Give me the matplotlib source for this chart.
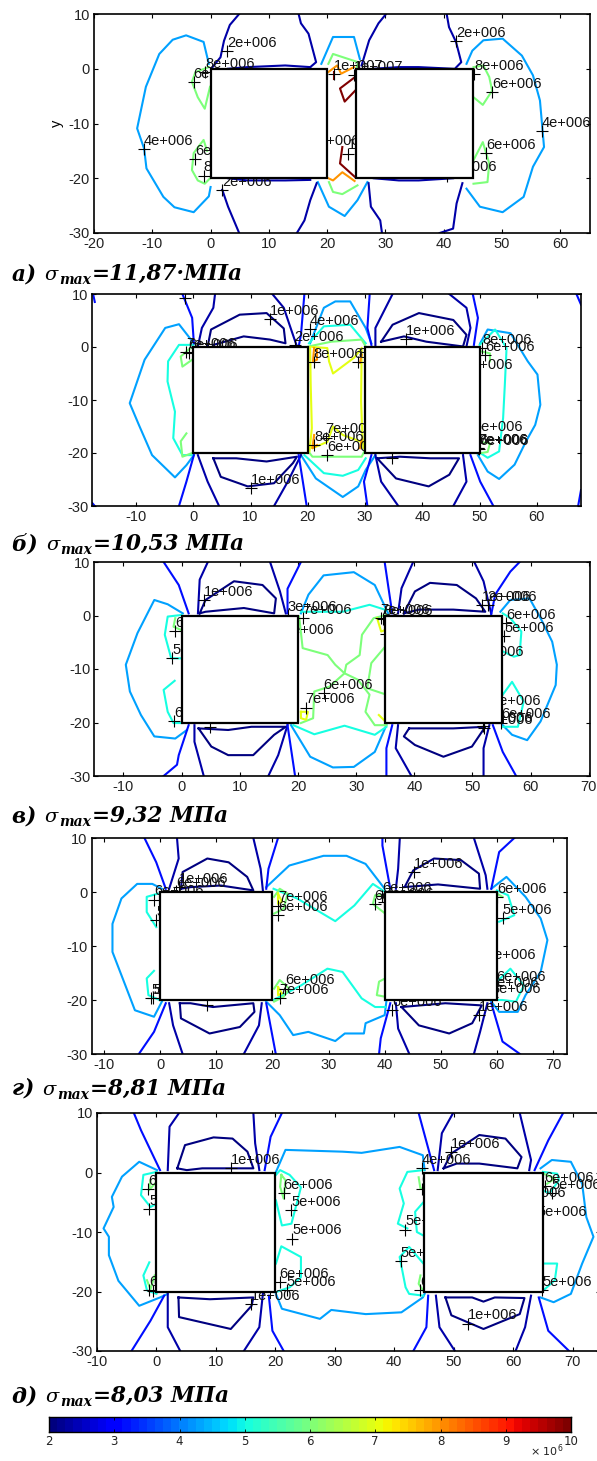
import numpy as np
import matplotlib
matplotlib.use("Agg")
import matplotlib.pyplot as plt
from matplotlib.patches import Rectangle

W, H = 597, 1461
NAVY, LEG, BLUE, SKY, CYAN, GREEN, YELLOW, ORANGE, DARKRED = 2.0, 2.3, 3.1, 4.25, 5.0, 6.0, 7.0, 8.0, 10.0
LEVEL_MIN, LEVEL_MAX = 2.0, 10.0
Y_TICKS = [-30, -20, -10, 0, 10]

# ---------- panel a ----------
a_contours = {
 SKY: [[(-.3,.9),(-1.2,4.9),(-4.2,6.1),(-6.5,5.3),(-8.8,2.7),(-11.1,-3.3),(-12.6,-10.9),(-11.4,-14.6),(-11,-18.2),(-8.1,-23.4),(-6.2,-25.3),(-2.9,-26.2),(-.3,-23.3),(0,-21.6)],
       [(43.9,.9),(44.9,3.3),(46.8,5.2),(50.1,5.5),(53.4,2.4),(55.3,-1.2),(56.5,-5.8),(57.2,-14.3),(55.3,-17.9),(53.7,-23.4),(50.1,-26.2),(46.2,-25.2),(43.9,-21.9)],
       [(19,.9),(21,5.8),(24.6,5.8),(25.6,1.8)],
       [(18.4,-20.7),(20.3,-25.2),(23,-26.9),(25.2,-24),(26.9,-20.7)]],
 LEG: [[(4.9,10),(3.3,8),(2.3,5.1),(1.7,2.1),(.1,0)],
       [(15.1,10),(15.5,8.3),(16.8,6.4),(18.1,1.2),(17.1,.3)],
       [(30.1,10),(28.8,8.3),(27.2,5.2),(25.9,.6)],
       [(40.5,10),(40.9,7.6),(42.1,4.9),(43,1.2),(41.9,0)],
       [(2,-22.1),(3,-25.2),(4.9,-30)],
       [(18.2,-20.9),(17.1,-24),(16.1,-27.7),(14.8,-30)],
       [(27.1,-20.9),(27.5,-25.2),(29.1,-27.7),(29.4,-30)],
       [(43.2,-20.9),(42.2,-24.6),(41.6,-29.2),(39.3,-30)],
       [(3,0),(6.3,.3),(12.8,.6),(17.1,.3)],
       [(28,0),(32.3,.3),(35.7,.3),(41.6,0)],
       [(3,-20),(6.3,-20.4),(12.8,-20.4),(17.1,-20.3)],
       [(28,-20),(32.3,-20.4),(35.7,-20.4),(41.6,-20)]],
 GREEN: [[(-.3,.3),(-2.6,-.6),(-3.2,-2.4),(-2.2,-5.2),(-1,-7.3),(-.1,-3.3)],
         [(-.6,-15),(-1.2,-13),(-2.9,-15.4),(-3.2,-18.5),(-2.2,-20.4),(-1,-21),(.1,-19.8)],
         [(45.1,.3),(46.8,.6),(47.8,-1.5),(48.3,-4),(46.7,-6.6),(45.1,-5.2)],
         [(45.1,-16.7),(46.7,-13.4),(47.8,-17.3),(47.5,-20.7),(45.1,-21)],
         [(20.2,.9),(21,2.7),(25.3,1.2),(25,0)],
         [(20.3,-20.7),(21,-22.5),(22.6,-22.9),(25.2,-21.3)]],
 ORANGE: [[(20.2,-.6),(21.7,.6),(22.4,-.9),(24.6,.3)],
          [(20.2,-20),(21,-20.4),(22.6,-18.9),(24.7,-20.5)]],
 DARKRED: [[(24.8,-1.5),(22.2,-3.6),(23,-6),(24.8,-4)],
           [(22.6,-14.3),(22.2,-17.3),(24.8,-19.8)],
           [(21.1,-.6),(21.1,-1.8)]],
}
a_labels = ["2e+006","8e+006","6e+006","4e+006","6e+006","8e+006","2e+006","1e+007","1e+007","6e+006","1e+007","2e+006","8e+006","6e+006","4e+006","6e+006","6e+006"]
a_x = [2.8,-.9,-2.9,-11.5,-2.7,-1.2,2,21.1,24.6,17.1,23.6,42.1,45.2,48.3,56.8,47.3,40.6]
a_y = [3.3,-.6,-2.4,-14.7,-16.5,-19.5,-22.1,-1,-1.2,-14.6,-15.5,5,-1,-4.3,-11.4,-15.4,-19.5]
a_xticks = list(range(-20, 61, 10))

# ---------- panel b ----------
b_contours = {
 SKY: [[(.1,.7),(-2.5,4.3),(-4.9,3.6),(-8.5,-2.4),(-11.1,-10.6),(-9.5,-14.7),(-7.2,-20.4),(-3.2,-24.6),(-1.2,-22.3),(.1,-20.4)],
       [(50.1,.7),(51.4,3.3),(55.4,2.6),(58.4,-2.7),(60.1,-5.2),(60.6,-10.9),(59.7,-14.7),(58.1,-17.8),(56.1,-22.2),(53.4,-24.9),(51.4,-23.5),(49.7,-20.4)],
       [(20.4,.7),(22.8,7.4),(24.8,8.6),(27.4,8.6),(30.1,3.6),(31.1,.7)],
       [(18.8,-20.4),(21.4,-24.8),(26.1,-28.3),(28.8,-26.3),(30.1,-23.2),(31.8,-20.4)]],
 CYAN: [[(0,.4),(-2.5,.4),(-4.4,-2.7),(-4.5,-6.5),(-3.2,-12.2),(-3.5,-17.2),(-1.9,-20.4),(.1,-20.4)],
        [(50,.4),(52.7,3.3),(54.7,-.2),(54.4,-7.1),(54.1,-13.4),(53.4,-19.7),(51.4,-20.9),(49.7,-19.7)],
        [(20.2,.7),(22.8,3.9),(27.4,4.2),(30.1,.7)],
        [(19.4,-20.4),(22.8,-23.8),(26.1,-24.3),(28.8,-23.2),(30.1,-21)]],
 GREEN: [[(-.5,-.2),(-2.2,-1.8),(-1.9,-3.7),(-.2,-2.4)],
         [(-1.2,-16.3),(-2.2,-17.8),(-1.9,-20.7),(-.2,-20)],
         [(20.1,.1),(24.1,1),(29.4,1.4),(30.1,.1)],
         [(20.1,-19.7),(20.8,-20.7),(29.4,-20.7),(30,-19.4)],
         [(50.1,-.8),(51.8,-1.2),(51.8,-2.7)],
         [(50.1,-17.9),(51.8,-18.2),(51.4,-19.8),(49.8,-20.1)]],
 YELLOW: [[(20.4,0),(20.5,-7),(20.7,-15.3),(20.3,-19.7)],
          [(20.8,0),(23.4,-.2),(23.7,-2.7),(24.4,-5),(28.1,-2),(29.4,-.2)],
          [(29.4,-.5),(29.3,-10.3),(29.5,-16),(29.7,-19.1)],
          [(20.4,-18.5),(20.8,-19.1),(23.4,-17.9),(24.4,-15),(26.1,-16.6),(29.4,-17.9)]],
 ORANGE: [[(21.1,-.2),(20.9,-2.7),(21.6,-2.4),(21.6,-.5)],
          [(29.4,-1.5),(29.1,-3)],
          [(21.1,-16.6),(20.8,-19.1),(21.6,-18.5)],
          [(29.4,-17.5),(29.1,-19.1)]],
 NAVY: [[(2.5,.1),(3.1,3.3),(8.1,6.1),(12.8,6.4),(15.8,3.5),(16.1,.7),(13.4,1.4),(8.8,2),(3.5,.4)],
        [(32.8,1),(34.8,4.2),(39.4,6.4),(45.4,5.1),(47.7,2.3),(47.1,.1),(40.7,1),(36.8,2),(32.8,1)],
        [(3.5,-21),(4.8,-24.5),(9.5,-26.3),(14.1,-25.7),(17.4,-21.9),(18.1,-20.7),(12.8,-21.6),(7.5,-21),(3.5,-21)],
        [(32.1,-21),(35.4,-24.8),(41.1,-26.3),(44.7,-24.1),(46.4,-21),(41.4,-21),(36.1,-20.7),(32.1,-21)]],
 LEG: [[(3.8,10),(3.5,7.4),(1.5,3.6),(.8,.1)],[(13.8,10),(15.8,7.4),(17.4,2.3),(18.1,.1)],
       [(34.8,10),(31.8,3.6),(31.8,.1)],[(44.7,10),(47.7,7.4),(48.4,3.6),(47.7,.1)],
       [(.8,-20.4),(2.5,-25.4),(4.5,-30)],[(18.8,-20.4),(16.5,-25.4),(14.1,-30)],
       [(31.8,-20.4),(32.8,-25.4),(35.8,-30)],[(47.1,-20.4),(47.7,-25.4),(45.4,-30)]],
 BLUE: [[(-1.9,10),(-.2,5.5),(.1,.7)],[(19.4,10),(18.8,2.3),(18.4,.1)],[(30.8,10),(30.4,3.6),(31.1,.4)],[(48.8,10),(49.7,5.5),(49,.4)],
        [(.1,-20.4),(-1.2,-25.4),(-2.5,-30)],[(18.4,-20.4),(19.8,-30)],[(31.1,-20.4),(29.8,-25.4),(30.4,-30)],[(48.4,-20.4),(50.1,-25.4),(52.4,-30)],
        [(-17.5,10),(-17.2,8.5)],[(-17.2,-30),(-17.6,-29.5)],[(66.9,10),(67.7,8)],[(67.7,-27),(67.2,-30)]],
}
b_labels = ["9e+006","1e+006","4e+006","2e+006","7e+006","6e+006","8e+006","8e+006","7e+006","8e+006","6e+006","1e+006","1e+006","6e+006","8e+006","5e+006","5e+006","7e+006","8e+006","6e+006","1e+006"]
b_x = [-1.5,13.4,20.4,17.7,-1.3,-.8,21,28.8,23.1,21.1,23.4,10,37.2,50.9,50.5,47.1,49,49.7,49.8,49.9,34.7]
b_y = [9.3,5.2,3.4,.4,-1,-1.2,-2.9,-2.9,-17.1,-18.5,-20.4,-26.6,1.5,-1.6,-.2,-5,-16.7,-19,-19.1,-19.2,-21]
b_xticks = list(range(-10, 61, 10))

# ---------- panel c ----------
c_contours = {
 SKY: [[(.2,.4),(-2.4,2.1),(-4.7,2.9),(-7.6,-3.3),(-9.6,-9.2),(-8.9,-14.2),(-7,-18.6),(-4.7,-22.6),(-1.1,-23),(.9,-21.4)],
       [(54.8,.7),(56.5,2.9),(59.8,3.2),(61.7,-.5),(63.7,-4.9),(64.5,-9.2),(64.3,-13),(61.7,-19.8),(59.4,-23.3),(56.8,-22.3),(55.2,-20.5)],
       [(20.5,.4),(21.8,3.9),(24.4,7.5),(29.6,8.1),(33.2,5.7),(35.5,.4)],
       [(18.8,-20.5),(22.1,-26.4),(26,-28.4),(29.6,-28.3),(33.2,-25.5),(35.2,-20.5)]],
 CYAN: [[(0,.1),(-2.4,-.2),(-2.9,-3.6),(-1.8,-8),(.1,-8)],
        [(-1.2,-12.2),(-3.1,-13.9),(-2.4,-18),(-1.4,-20.1),(.1,-20.1)],
        [(55.2,.4),(56.5,-.5),(58.4,-3),(58.1,-7.4),(57.1,-7.7),(55.2,-6.7)],
        [(55.2,-14.8),(56.8,-12.4),(58.8,-16.1),(57.8,-20.8),(55.2,-20.8)],
        [(20.5,.7),(27.7,.7),(32.3,2),(35.2,1)],
        [(19.2,-20.5),(22.8,-22.2),(28,-20.6),(33.2,-22.3),(35.2,-20.8)]],
 GREEN: [[(-1.1,-.5),(-1.4,-2.1),(-.1,-2.7)],
         [(20.2,-.2),(20.8,-6.1),(25.1,-7.4),(26.4,-9.2),(28,-10.8),(25.4,-13.3),(22.8,-14.2),(22.6,-19.2),(20.5,-20.1)],
         [(35.2,.1),(33,-.5),(31,-3.6),(30.6,-7.4),(28.3,-9.2),(28,-10.8),(30.3,-12),(32.3,-14.8),(31.6,-18),(33.2,-20.5),(35.2,-20.5)],
         [(35,-5.8),(32.6,-8.9),(31.9,-13.6),(35.2,-14.8)]],
 YELLOW: [[(20.5,-18),(20.5,-19.2),(21.4,-19.5),(21.7,-18),(20.5,-18)],
          [(33.6,-.5),(34.3,-3),(35,-2.7)],[(33.9,-18.6),(35,-19.8)]],
 NAVY: [[(3.1,.4),(4.1,2.9),(9,6.4),(13.9,5.7),(16.2,3.2),(15.9,.4),(10.7,1.4),(4.1,.7),(3.1,.4)],
        [(38.2,.4),(40.1,4.5),(42.7,6.1),(47.3,5.7),(50.6,3.2),(52.2,.7),(46.7,1.1),(40.8,1.1),(38.2,.4)],
        [(2.9,-21.1),(5.1,-24.5),(8,-26.1),(12.3,-26.1),(15.9,-22.3),(17.9,-20.8),(12,-20.8),(8,-21.4),(2.9,-21.1)],
        [(39.1,-21.1),(38.2,-22.6),(40.1,-24.2),(45,-26.4),(49.9,-24.5),(52.2,-20.8),(46.7,-21.1),(40.8,-21.1),(39.1,-21.1)]],
 LEG: [[(4.5,10),(3.1,6.7),(2.8,.4)],[(15.2,10),(16.9,4.5),(17.9,.4)],[(39.8,10),(37.8,5.1),(37.2,.4)],[(50.3,10),(51.9,6.4),(53.2,.4)],
       [(2.2,-20.5),(2.2,-23.6),(3.8,-30)],[(18.2,-20.5),(16.6,-26.1),(14.9,-30)],[(37.2,-20.5),(36.8,-24.8),(39.5,-30)],[(52.9,-20.5),(51.9,-24.8),(51.9,-30)]],
 BLUE: [[(-3.1,10),(-.5,5.7),(1.2,.4)],[(20.5,10),(18.2,5),(18.2,.4)],[(34.9,10),(36.2,.4)],[(58.1,10),(56.5,8.2),(53.9,3.9),(53.2,.1)],
        [(1.2,-20.5),(-.5,-26.1),(-.8,-27.9),(-3.1,-30)],[(18.2,-20.5),(19.5,-30)],[(36.2,-20.5),(35.2,-24.8),(35.2,-30)],[(53.5,-20.5),(55.2,-25.5),(57.5,-30)]],
}
c_labels = ["1e+006","3e+006","7e+006","5e+006","6e+006","7e+006","6e+006","5e+006","6e+006","1e+006","7e+006","8e+006","6e+006","1e+006","2e+006","6e+006","5e+006","5e+006","5e+006","6e+006","5e+006","1e+006"]
c_x = [3.8,18.2,20.8,17.6,24.4,21.3,-1.1,-1.6,-1.3,4.8,34.2,34.6,35.2,51.6,52.6,55.8,55.5,50.3,53.3,54.9,51.8,51.9]
c_y = [2.9,.1,-.5,-4.3,-14.5,-17.2,-2.9,-8,-19.7,-20.8,-.5,-.6,-3.4,1.9,2,-1.4,-3.9,-8.4,-17.5,-20,-20.7,-21.1]
c_xticks = list(range(-10, 71, 10))

# ---------- panel d ----------
d_contours = {
 SKY: [[(.3,.6),(-1.4,1.5),(-4.1,1.5),(-6.9,-1.2),(-8.5,-5.9),(-8.5,-11.1),(-6.2,-17.3),(-4.5,-21.9),(-1.1,-23.1),(.3,-20.3)],
       [(59,.6),(61.7,2.8),(65.1,-.9),(67.8,-4.9),(69,-8.9),(67.8,-14.8),(65.1,-19.1),(63.7,-22.2),(60.4,-22.2),(59,-20.3)],
       [(18.9,.9),(23,4.9),(29.1,6.7),(33.2,6.7),(36.6,5.2),(40,.6)],
       [(18.9,-20.3),(21.3,-22.8),(23.7,-26.5),(26.4,-25.9),(31.2,-27.6),(32.9,-26.2),(36.3,-26.2),(36.6,-24.3),(40,-22.8),(40.3,-20.3)]],
 CYAN: [[(-.4,-.3),(-2.4,-.9),(-2.4,-3.7),(-.7,-6.5)],
        [(-1.1,-14.6),(-2.4,-16),(-2.1,-19.1),(-.1,-20)],
        [(60,.3),(62,-.6),(63.1,-4.3),(60.4,-5.5)],
        [(60,-16.6),(62.4,-14.2),(64.8,-17.3),(63.4,-20.3),(61,-20),(60,-20)],
        [(20.2,.6),(24.4,-1.2),(31.2,-5.4),(34.6,-2.5),(37.9,1.5),(40.1,0)],
        [(20.2,-20),(25.1,-17.3),(29.8,-14.2),(32.5,-14.8),(35.9,-19.7),(38.3,-21.3),(40.1,-21.3)]],
 GREEN: [[(20.3,-.9),(21.3,.6),(22.7,-.3),(22,-3.1),(20.3,-4)],
         [(20.3,-17.9),(21.3,-16.3),(23,-17.9),(22,-19.4),(20.3,-20.3)],
         [(40.1,-.6),(38.3,-.6),(37.9,-2.2),(40.1,-4)],
         [(40.1,-16),(39,-16.6),(38.6,-19.1),(40.1,-19.4)],
         [(60,-.3),(61,-.9)]],
 YELLOW: [[(21,-.3),(21,-2.2),(21.7,-1.8),(21,-.3)],[(21,-17.6),(21,-19.1),(21.7,-18.8),(21,-17.6)],[(40,-.9),(40.1,-1.8)]],
 NAVY: [[(3.7,.6),(4,3.7),(8.4,6.2),(12.2,5.5),(15.5,2.8),(16.6,.3),(10.8,1.2),(5.4,.9),(3.7,.6)],
        [(43.7,1.2),(45.1,4),(48.8,6.2),(53.6,5.9),(56.8,3.4),(57,.6),(49.5,1.4),(43.4,.9)],
        [(3.5,-20.6),(3.7,-23.4),(8.8,-26.2),(14.2,-25),(16.8,-22.2),(16.6,-20.6),(9.4,-21.3),(5.4,-20.6),(3.5,-20.6)],
        [(43,-21.3),(46.1,-24.7),(51.5,-26.2),(55.6,-24.3),(57.3,-21),(50.8,-20.6),(43,-21.3)]],
 LEG: [[(3,10),(3.3,6.2),(1.6,.6)],[(16.6,10),(17.9,4.3),(18.3,.3)],[(42.7,10),(42.4,4.3),(42,.6)],[(55.9,10),(58,3.1),(58.3,.6)],
       [(1.6,-20.6),(2.3,-24.7),(4,-30)],[(18.1,-20.6),(17.6,-24.7),(14.9,-30)],[(42,-20.6),(42.4,-25.3),(44.4,-30)],[(58.3,-20.6),(57,-25.9),(55.9,-30)]],
 BLUE: [[(-2.8,10),(-.7,5.5),(1,.6)],[(21,10),(19.3,4.3),(18.9,.6)],[(39.6,10),(39.6,8.6),(41,.6)],[(63.1,10),(60.4,7.4),(59,.6)],
        [(1,-20.6),(-1.1,-25.9),(-3.8,-30)],[(18.9,-20.6),(20.6,-30)],[(41,-20.6),(39.3,-27.1),(39,-30)],[(59,-20.6),(61,-27.7),(64.1,-30)]],
}
d_labels = ["1e+006","6e+006","6e+006","5e+006","5e+006","5e+006","1e+006","7e+006","6e+006","6e+006","7e+006","6e+006","7e+006","6e+006","1e+006","6e+006","5e+006","5e+006","6e+006","7e+006","8e+006","1e+006","6e+006"]
d_x = [3.3,-1.1,2.9,-.7,-1.6,-1.2,8.4,21,21,22.3,21.3,38.2,39.9,39.5,45.2,60,61,58.1,59.8,58.6,59.1,56.8,41.3]
d_y = [.9,-1.4,.2,-5.2,-19.7,-19.7,-21,-2.5,-4.3,-17.9,-19.6,-2.3,-1.8,-.8,3.7,-.9,-4.8,-13.2,-17.2,-18.3,-19.5,-22.8,-21.8]
d_xticks = list(range(-10, 71, 10))

# ---------- panel e ----------
e_contours = {
 SKY: [[(.1,.4),(-2.9,1.8),(-5.8,-.7),(-7.5,-4.1),(-7.2,-5.8),(-8.9,-9.4),(-8,-10.8),(-8,-13.9),(-6.4,-18.2),(-2.9,-22.4),(.6,-21),(1.9,-20.4)],
       [(64.6,.7),(66.5,2.1),(69.7,1.8),(71.6,-1.9),(72.3,-7.5),(73.5,-10.8),(71.6,-15.3),(69.7,-20.4),(66.8,-21.8),(64.6,-21)],
       [(20.1,.1),(21.7,3.8),(31.3,3.5),(34.5,3.3),(40.9,4.3),(44.8,2.9),(45.1,.4)],
       [(20.1,-20.4),(21.1,-22.9),(27.5,-24.6),(29.4,-23.1),(35.2,-23.8),(41.2,-23.5),(44.8,-21),(45.1,-20.4)]],
 CYAN: [[(0,.1),(-2.2,-.4),(-2.6,-3.8),(-1,-5.8),(.1,-5.2)],
        [(-1.2,-15.1),(-2.2,-17.3),(-1.6,-19.8),(0,-20.4)],
        [(20.1,-.4),(20.8,.4),(22.4,-.4),(24.3,-2.5),(22.7,-8.6),(21.1,-8.9),(20.1,-4.7)],
        [(20.1,-15.3),(21,-12.4),(24.3,-14.2),(24.3,-17.6),(22.4,-19.3),(20.1,-20.1)],
        [(44.9,.4),(42.2,.1),(40.9,-2.7),(41.6,-5.2),(40.6,-8.6),(42.2,-9.4)],
        [(44.9,-5),(43.5,-6.6),(43.8,-10),(44.9,-10.6)],
        [(44.9,-15.3),(42.5,-12.5),(40.9,-14.2),(41.9,-19.3),(42.5,-20.4),(44.9,-20.7)],
        [(65,.1),(67.4,-.2),(67.7,-1.3),(66.1,-3.5),(65,-3)],
        [(65,-15.3),(67.4,-15.3),(67,-18.1),(65.1,-19.8)]],
 GREEN: [[(21,-.4),(20.8,-2.4),(21.4,-4.4),(21.7,-1.3),(21,-.4)],
         [(-1,-1.3),(-1.3,-3),(-.3,-1.9)],
         [(-1.6,-18.1),(-1,-19.6),(-.3,-17.3)],
         [(44.1,-.8),(44.4,-2.7),(44.9,-2.7)],
         [(44.4,-17.3),(44.1,-18.7),(44.8,-19.8)],
         [(65.1,-.2),(67,-1),(65.7,-1.9)]],
 NAVY: [[(3.5,.7),(4.8,4.6),(9.6,5.9),(12.8,5.7),(15.3,3.5),(16.3,.7),(12.5,.7),(7.7,.7),(5.1,.4),(3.5,.7)],
        [(48.3,.7),(49.6,3.2),(54.3,6.3),(58.7,5.7),(61.4,2.6),(60.7,.7),(54.3,1.5),(50.5,1.5),(48.3,.7)],
        [(3.7,-21),(3.8,-24.3),(12.5,-26.3),(16,-22.4),(16.3,-21),(9,-21.3),(3.7,-21)],
        [(48.6,-21),(49.6,-24),(55,-26.3),(61.1,-23.8),(61.9,-21.1),(56.9,-21),(55,-21.7),(53.1,-21),(48.6,-21)]],
 LEG: [[(3.8,10),(2.2,7.7),(1.9,.4)],[(16.3,10),(16.6,4.9),(17.3,.4)],[(49.9,10),(48,6.6),(47.3,.4)],[(61.1,10),(63,2.1),(62.7,.4)],
       [(1.9,-20.4),(1.9,-26),(4,-30)],[(17.9,-20.4),(17.3,-26),(14.7,-30)],[(47,-20.7),(47.6,-26),(50.2,-30)],[(63,-20.7),(62,-26),(60.4,-30)]],
 BLUE: [[(-3.8,10),(-2.6,7.1),(.6,.4)],[(21.1,10),(19.2,6),(18.2,.4)],[(44.1,10),(46.7,.4)],[(68.4,10),(65.9,5.4),(63.6,.4)],
        [(1.3,-20.7),(-1,-24.9),(-4.2,-30)],[(18.9,-20.7),(19.5,-26.6),(21.4,-30)],[(45.7,-20.7),(45.4,-26),(43.2,-30)],[(64.3,-21),(65.9,-26.6),(69.4,-30)]],
}
e_labels = ["6e+006","5e+006","6e+006","6e+006","1e+006","6e+006","5e+006","5e+006","6e+006","5e+006","1e+006","1e+006","4e+006","1e+006","5e+006","5e+006","6e+006","6e+006","6e+006","5e+006","5e+006","5e+006","5e+006"]
e_x = [-1.4,-1.2,-1.2,-.6,12.6,21.4,22.7,22.8,20.7,21.9,15.9,52.4,44.6,49.6,41.8,41.1,44.3,44.6,65.3,66.5,60.5,64,64.9]
e_y = [-2.8,-6.1,-19.7,-19.9,.7,-3.4,-6.3,-11.1,-18.4,-19.8,-22.1,-25.4,.7,3.5,-9.6,-14.9,-19.8,-2.7,-2.3,-3.5,-4.8,-8,-19.8]
e_xticks = list(range(-10, 71, 10))

# ---------- captions, squares, colourbar ----------
caption_prefix = ["а)", "б)", "в)", "г)", "д)"]
caption_value = ["=11,87·МПа", "=10,53 МПа", "=9,32 МПа", "=8,81 МПа", "=8,03 МПа"]
squares = [(0, 25), (0, 30), (0, 35), (0, 40), (0, 45)]
cbar_ticks = [2, 3, 4, 5, 6, 7, 8, 9, 10]

# layout: axes box in pixels (left, right, top, bottom) and x limits
boxes = [(94, 589.5, 14, 233), (92.5, 581, 294, 506), (94.4, 590, 562, 776), (91.7, 566.5, 838, 1054), (97, 600, 1113, 1351)]
xlims = [(-20, 65), (-17.6, 67.7), (-15, 70.2), (-12.2, 72.4), (-9.9, 74.6)]
caption_base = [280, 550, 822, 1095, 1402]

plt.rcParams['font.family'] = ['Liberation Sans', 'DejaVu Sans']
plt.rcParams['axes.unicode_minus'] = False
cmap = plt.cm.jet
fig = plt.figure(figsize=(W / 100, H / 100), dpi=100, facecolor='white')


def col(level):
    return cmap((level - LEVEL_MIN) / (LEVEL_MAX - LEVEL_MIN))


def axes_at(box):
    l, r, t, b = box
    return fig.add_axes([l / W, 1 - b / H, (r - l) / W, (b - t) / H])


def panel(box, xlim, contours, labels, xs, ys, xticks, sq_left):
    ax = axes_at(box)
    ax.set_xlim(*xlim)
    ax.set_ylim(-30, 10)
    for level, lines in contours.items():
        for pts in lines:
            arr = np.array(pts)
            ax.plot(arr[:, 0], arr[:, 1], color=col(level), lw=1.5, zorder=2, solid_joinstyle='round')
    ax.plot(xs, ys, ls='none', marker='+', ms=8, mew=0.8, color='black', zorder=3)
    for s, x, y in zip(labels, xs, ys):
        ax.annotate(s, (x, y), xytext=(0, 3), textcoords='offset points', fontsize=10.5,
                    va='baseline', ha='left', color='#111111', zorder=3, annotation_clip=True, clip_on=True)
    for x0 in sq_left:
        ax.add_patch(Rectangle((x0, -20), 20, 20, fc='white', ec='black', lw=1.6, zorder=5))
    ax.set_xticks(xticks)
    ax.set_yticks(Y_TICKS)
    ax.tick_params(direction='in', length=3, width=0.8, top=True, right=True, labelsize=10.5,
                   labelcolor='#222222', pad=3)
    for s in ax.spines.values():
        s.set_linewidth(1.2)
    return ax


all_c = [a_contours, b_contours, c_contours, d_contours, e_contours]
all_l = [a_labels, b_labels, c_labels, d_labels, e_labels]
all_x = [a_x, b_x, c_x, d_x, e_x]
all_y = [a_y, b_y, c_y, d_y, e_y]
all_t = [a_xticks, b_xticks, c_xticks, d_xticks, e_xticks]
for i in range(5):
    ax = panel(boxes[i], xlims[i], all_c[i], all_l[i], all_x[i], all_y[i], all_t[i], squares[i])
    if i == 0:
        ax.set_ylabel('y', fontsize=10.5, labelpad=3)

renderer = fig.canvas.get_renderer()


def chain(x, base, pieces):
    for s, size, dy, style, weight in pieces:
        t = fig.text(x / W, 1 - (base + dy) / H, s, fontsize=size, family='DejaVu Serif', style=style,
                     weight=weight, va='baseline', ha='left', color='black')
        x = t.get_window_extent(renderer).x1 + 1


for i in range(5):
    chain(12, caption_base[i], [(caption_prefix[i] + " ", 15.5, 0, 'italic', 'bold'),
                                ("σ", 14, 0, 'italic', 'normal'),
                                ("max", 10, 4, 'italic', 'bold'),
                                (caption_value[i], 15.5, 0, 'italic', 'bold')])

cax = axes_at((49, 571, 1417, 1432))
grad = np.linspace(LEVEL_MIN, LEVEL_MAX, 64).reshape(1, -1)
cax.imshow(grad, aspect='auto', cmap=cmap, extent=(LEVEL_MIN, LEVEL_MAX, 0, 1), vmin=LEVEL_MIN, vmax=LEVEL_MAX)
cax.set_yticks([])
cax.set_xticks(cbar_ticks)
cax.set_xticklabels([str(v) for v in cbar_ticks], family='DejaVu Sans', fontsize=8.5)
cax.tick_params(direction='in', length=2, width=0.6, top=True, pad=2, labelcolor='#222222')
for s in cax.spines.values():
    s.set_linewidth(1.0)
fig.text(530 / W, 1 - 1456 / H, "× 10$^{6}$", family='DejaVu Sans', fontsize=8, va='baseline', color='#222222')

fig.savefig('out.png', dpi=100, facecolor='white')
